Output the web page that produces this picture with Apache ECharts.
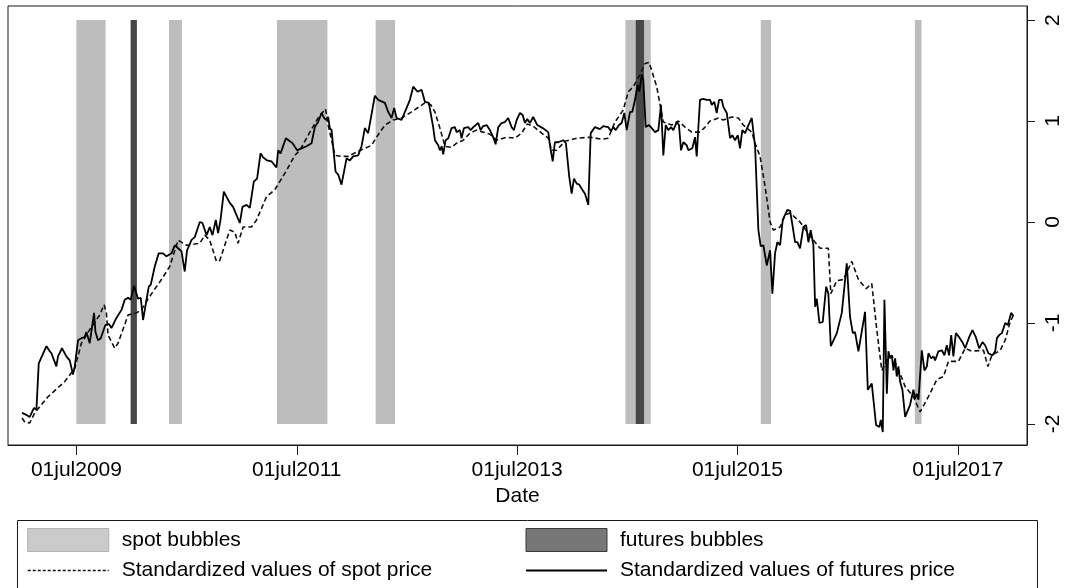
<!DOCTYPE html>
<html>
<head>
<meta charset="utf-8">
<script src="https://cdn.jsdelivr.net/npm/echarts@6/dist/echarts.min.js"></script>
<style>
  html, body { margin: 0; padding: 0; background: #fff; }
  #chart { width: 1067px; height: 588px; }
</style>
</head>
<body>
<div id="chart"></div>
<script>
// dates are decimal years (2009.5 = 01jul2009)
var xTicks = [2009.5, 2011.5, 2013.5, 2015.5, 2017.5];
var xTickLabels = ['01jul2009', '01jul2011', '01jul2013', '01jul2015', '01jul2017'];
var yTicks = [-2, -1, 0, 1, 2];

// shaded periods [start, end]
var spotBubbles = [
  [2009.499, 2009.765], [2010.340, 2010.458], [2011.320, 2011.778],
  [2012.216, 2012.392], [2014.483, 2014.713], [2015.712, 2015.805],
  [2017.110, 2017.171]
];
var futuresBubbles = [[2009.992, 2010.049], [2014.577, 2014.652]];
var bandLow = -2, bandHigh = 2;

var spotPrice = [
  [2009.006, -1.94], [2009.031, -1.98], [2009.076, -1.99], [2009.121, -1.89], [2009.242, -1.73],
  [2009.394, -1.58], [2009.485, -1.45], [2009.545, -1.20], [2009.636, -1.04], [2009.712, -0.92],
  [2009.751, -0.82], [2009.772, -0.90], [2009.787, -1.12], [2009.848, -1.25], [2009.878, -1.20],
  [2009.969, -0.92], [2010.045, -0.90], [2010.090, -0.87], [2010.150, -0.76], [2010.272, -0.57],
  [2010.347, -0.44], [2010.423, -0.18], [2010.499, -0.23], [2010.620, -0.21], [2010.665, -0.13],
  [2010.710, -0.18], [2010.771, -0.39], [2010.801, -0.38], [2010.892, -0.08], [2010.938, -0.10],
  [2010.967, -0.21], [2011.013, -0.05], [2011.089, -0.05], [2011.135, 0.02], [2011.225, 0.25],
  [2011.301, 0.32], [2011.407, 0.51], [2011.482, 0.66], [2011.528, 0.71], [2011.619, 0.89],
  [2011.694, 1.03], [2011.761, 1.12], [2011.785, 0.96], [2011.816, 0.81], [2011.846, 0.66],
  [2011.906, 0.65], [2011.966, 0.65], [2012.057, 0.70], [2012.179, 0.76], [2012.224, 0.84],
  [2012.300, 0.96], [2012.375, 1.01], [2012.451, 1.03], [2012.542, 1.09], [2012.663, 1.18],
  [2012.717, 1.16], [2012.754, 1.09], [2012.799, 0.93], [2012.845, 0.75], [2012.905, 0.74],
  [2012.951, 0.78], [2013.011, 0.81], [2013.072, 0.88], [2013.132, 0.91], [2013.192, 0.89],
  [2013.253, 0.87], [2013.314, 0.81], [2013.405, 0.84], [2013.480, 0.83], [2013.541, 0.88],
  [2013.592, 0.97], [2013.646, 0.95], [2013.723, 0.88], [2013.783, 0.83], [2013.813, 0.71],
  [2013.859, 0.71], [2013.934, 0.80], [2014.041, 0.83], [2014.161, 0.84], [2014.267, 0.82],
  [2014.327, 0.83], [2014.388, 0.99], [2014.464, 1.11], [2014.509, 1.29], [2014.555, 1.34],
  [2014.615, 1.46], [2014.661, 1.57], [2014.697, 1.58], [2014.722, 1.50], [2014.767, 1.34],
  [2014.827, 0.99], [2014.903, 0.96], [2014.963, 1.00], [2015.024, 0.94], [2015.085, 0.89],
  [2015.160, 0.89], [2015.206, 0.94], [2015.251, 1.00], [2015.326, 1.03], [2015.372, 1.01],
  [2015.448, 1.04], [2015.508, 1.03], [2015.553, 0.96], [2015.630, 0.89], [2015.660, 0.78],
  [2015.705, 0.65], [2015.751, 0.35], [2015.796, 0.00], [2015.826, -0.08], [2015.887, -0.05],
  [2015.932, 0.07], [2015.978, 0.09], [2016.068, 0.00], [2016.175, -0.16], [2016.250, -0.26],
  [2016.325, -0.26], [2016.347, -0.71], [2016.402, -0.58], [2016.461, -0.57], [2016.538, -0.39],
  [2016.598, -0.57], [2016.668, -0.66], [2016.719, -0.61], [2016.765, -1.07], [2016.810, -1.47],
  [2016.856, -1.37], [2016.901, -1.32], [2016.976, -1.50], [2017.022, -1.63], [2017.097, -1.73],
  [2017.158, -1.88], [2017.233, -1.73], [2017.310, -1.56], [2017.370, -1.53], [2017.415, -1.38],
  [2017.506, -1.38], [2017.567, -1.25], [2017.628, -1.28], [2017.733, -1.27], [2017.773, -1.43],
  [2017.809, -1.32], [2017.885, -1.27], [2017.930, -1.17], [2017.975, -0.99], [2018.005, -0.92]
];

var futuresPrice = [
  [2009.006, -1.89], [2009.046, -1.91], [2009.076, -1.93], [2009.115, -1.84], [2009.137, -1.86],
  [2009.158, -1.40], [2009.228, -1.23], [2009.258, -1.28], [2009.273, -1.30], [2009.318, -1.43],
  [2009.333, -1.33], [2009.369, -1.25], [2009.409, -1.33], [2009.439, -1.37], [2009.469, -1.51],
  [2009.485, -1.43], [2009.515, -1.17], [2009.545, -1.15], [2009.575, -1.14], [2009.591, -1.09],
  [2009.621, -1.20], [2009.660, -0.90], [2009.673, -1.09], [2009.696, -1.17], [2009.721, -1.15],
  [2009.763, -1.02], [2009.796, -1.01], [2009.818, -1.05], [2009.863, -0.95], [2009.909, -0.87],
  [2009.939, -0.77], [2009.969, -0.75], [2009.993, -0.77], [2010.023, -0.63], [2010.059, -0.76],
  [2010.084, -0.75], [2010.105, -0.97], [2010.136, -0.77], [2010.157, -0.64], [2010.175, -0.62],
  [2010.211, -0.44], [2010.247, -0.31], [2010.286, -0.31], [2010.317, -0.34], [2010.363, -0.31],
  [2010.393, -0.23], [2010.423, -0.26], [2010.454, -0.29], [2010.483, -0.49], [2010.504, -0.28],
  [2010.544, -0.18], [2010.574, -0.15], [2010.620, 0.00], [2010.644, -0.01], [2010.681, -0.13],
  [2010.710, -0.05], [2010.735, -0.13], [2010.765, 0.02], [2010.786, -0.11], [2010.808, 0.02],
  [2010.838, 0.30], [2010.892, 0.19], [2010.922, 0.15], [2010.983, -0.01], [2011.007, 0.15],
  [2011.044, 0.17], [2011.074, 0.14], [2011.110, 0.40], [2011.140, 0.43], [2011.171, 0.68],
  [2011.195, 0.64], [2011.231, 0.61], [2011.271, 0.60], [2011.316, 0.54], [2011.331, 0.71],
  [2011.353, 0.68], [2011.401, 0.83], [2011.462, 0.78], [2011.503, 0.71], [2011.543, 0.73],
  [2011.589, 0.75], [2011.634, 0.78], [2011.664, 0.94], [2011.694, 0.99], [2011.725, 1.08],
  [2011.748, 1.03], [2011.770, 1.01], [2011.785, 1.04], [2011.800, 0.93], [2011.816, 0.91],
  [2011.852, 0.50], [2011.876, 0.47], [2011.906, 0.37], [2011.952, 0.63], [2011.982, 0.61],
  [2012.012, 0.65], [2012.057, 0.66], [2012.088, 0.75], [2012.118, 0.93], [2012.148, 0.88],
  [2012.209, 1.25], [2012.239, 1.21], [2012.300, 1.18], [2012.330, 1.09], [2012.361, 1.03],
  [2012.384, 1.13], [2012.406, 1.03], [2012.451, 1.01], [2012.497, 1.13], [2012.527, 1.21],
  [2012.557, 1.34], [2012.597, 1.29], [2012.633, 1.31], [2012.663, 1.19], [2012.699, 1.18],
  [2012.738, 0.94], [2012.754, 0.81], [2012.784, 0.76], [2012.799, 0.71], [2012.815, 0.75],
  [2012.829, 0.67], [2012.851, 0.81], [2012.875, 0.83], [2012.905, 0.93], [2012.935, 0.94],
  [2012.951, 0.89], [2012.981, 0.91], [2012.996, 0.83], [2013.017, 0.93], [2013.056, 0.94],
  [2013.078, 0.91], [2013.102, 0.94], [2013.147, 0.98], [2013.169, 0.91], [2013.192, 0.95],
  [2013.223, 0.96], [2013.253, 0.91], [2013.283, 0.84], [2013.305, 0.77], [2013.329, 0.94],
  [2013.359, 0.98], [2013.389, 0.99], [2013.419, 1.03], [2013.450, 0.94], [2013.471, 0.91],
  [2013.496, 1.01], [2013.526, 1.08], [2013.550, 1.06], [2013.571, 0.98], [2013.592, 1.02],
  [2013.616, 0.98], [2013.646, 1.04], [2013.683, 0.96], [2013.732, 0.93], [2013.783, 0.89],
  [2013.798, 0.76], [2013.823, 0.60], [2013.843, 0.79], [2013.873, 0.79], [2013.919, 0.81],
  [2013.943, 0.78], [2013.973, 0.45], [2013.995, 0.28], [2014.016, 0.43], [2014.041, 0.38],
  [2014.064, 0.37], [2014.086, 0.33], [2014.116, 0.28], [2014.146, 0.17], [2014.168, 0.88],
  [2014.207, 0.94], [2014.252, 0.92], [2014.282, 0.95], [2014.327, 0.94], [2014.352, 0.90],
  [2014.373, 0.94], [2014.395, 0.91], [2014.425, 0.96], [2014.449, 0.98], [2014.473, 1.08],
  [2014.495, 0.91], [2014.525, 1.09], [2014.545, 1.09], [2014.570, 1.21], [2014.594, 1.36],
  [2014.609, 1.29], [2014.631, 1.46], [2014.645, 1.41], [2014.667, 0.94], [2014.697, 0.96],
  [2014.722, 0.93], [2014.752, 0.89], [2014.782, 0.91], [2014.806, 1.16], [2014.827, 0.66],
  [2014.849, 0.96], [2014.872, 0.91], [2014.897, 0.94], [2014.918, 0.91], [2014.949, 0.99],
  [2014.969, 0.96], [2014.988, 0.71], [2015.009, 0.79], [2015.039, 0.76], [2015.054, 0.71],
  [2015.090, 0.73], [2015.115, 0.84], [2015.130, 0.65], [2015.160, 1.21], [2015.190, 1.22],
  [2015.221, 1.21], [2015.251, 1.21], [2015.267, 1.16], [2015.290, 1.19], [2015.312, 1.08],
  [2015.333, 1.21], [2015.357, 1.21], [2015.372, 1.14], [2015.403, 1.08], [2015.433, 0.83],
  [2015.453, 0.86], [2015.478, 0.81], [2015.503, 0.86], [2015.523, 0.73], [2015.544, 0.91],
  [2015.569, 0.88], [2015.608, 0.98], [2015.630, 1.03], [2015.660, 0.75], [2015.690, -0.08],
  [2015.711, -0.24], [2015.735, -0.23], [2015.766, -0.43], [2015.780, -0.43], [2015.796, -0.28],
  [2015.817, -0.71], [2015.841, -0.31], [2015.862, -0.20], [2015.887, -0.23], [2015.911, 0.02],
  [2015.932, 0.07], [2015.953, 0.12], [2015.978, 0.11], [2016.002, -0.05], [2016.023, -0.20],
  [2016.044, -0.20], [2016.068, -0.26], [2016.098, -0.05], [2016.123, -0.03], [2016.144, -0.20],
  [2016.165, -0.08], [2016.189, -0.23], [2016.205, -0.84], [2016.220, -0.76], [2016.244, -1.00],
  [2016.274, -0.99], [2016.305, -0.64], [2016.325, -0.71], [2016.347, -1.23], [2016.402, -1.10],
  [2016.447, -0.90], [2016.492, -0.41], [2016.522, -0.94], [2016.547, -1.10], [2016.567, -1.09],
  [2016.598, -1.28], [2016.658, -0.89], [2016.683, -1.66], [2016.719, -1.60], [2016.758, -2.01],
  [2016.788, -2.03], [2016.801, -1.96], [2016.819, -2.08], [2016.834, -0.77], [2016.856, -1.70],
  [2016.870, -1.28], [2016.886, -1.35], [2016.901, -1.32], [2016.916, -1.47], [2016.931, -1.35],
  [2016.946, -1.53], [2016.961, -1.43], [2016.976, -1.58], [2016.997, -1.66], [2017.022, -1.93],
  [2017.037, -1.94], [2017.067, -1.81], [2017.097, -1.66], [2017.113, -1.75], [2017.128, -1.70],
  [2017.143, -1.76], [2017.158, -1.75], [2017.173, -1.27], [2017.197, -1.47], [2017.219, -1.43],
  [2017.233, -1.30], [2017.258, -1.35], [2017.279, -1.33], [2017.294, -1.37], [2017.324, -1.28],
  [2017.355, -1.27], [2017.379, -1.32], [2017.400, -1.22], [2017.421, -1.32], [2017.440, -1.12],
  [2017.460, -1.33], [2017.482, -1.10], [2017.512, -1.14], [2017.542, -1.19], [2017.567, -1.25],
  [2017.603, -1.14], [2017.633, -1.07], [2017.664, -1.14], [2017.694, -1.25], [2017.724, -1.19],
  [2017.748, -1.22], [2017.778, -1.30], [2017.815, -1.32], [2017.839, -1.28], [2017.855, -1.15],
  [2017.875, -1.12], [2017.900, -1.10], [2017.930, -1.00], [2017.954, -1.02], [2017.984, -0.90],
  [2018.005, -0.93]
];

var FONT = 'Liberation Sans, Arial, Helvetica, sans-serif';

function bands(list) {
  return list.map(function (b) {
    return [{ xAxis: b[0], yAxis: bandLow }, { xAxis: b[1], yAxis: bandHigh }];
  });
}

function tickLabel(v) {
  for (var i = 0; i < xTicks.length; i++) {
    if (Math.abs(xTicks[i] - v) < 1e-6) return xTickLabels[i];
  }
  return '';
}

var chart = echarts.init(document.getElementById('chart'), null, { renderer: 'canvas' });

var legendText = { fontSize: 21, color: '#000', fontFamily: FONT, padding: [0, 0, 0, 8] };

var option = {
  animation: false,
  backgroundColor: '#fff',
  textStyle: { fontFamily: FONT },
  grid: {
    left: 8, right: 40, top: 6, bottom: 143,
    show: true, borderColor: '#1a1a1a', borderWidth: 1, backgroundColor: '#fff'
  },
  xAxis: {
    type: 'value',
    min: 2008.879,
    max: 2018.128,
    name: 'Date',
    nameLocation: 'middle',
    nameGap: 38,
    nameTextStyle: { fontSize: 21, color: '#000', fontFamily: FONT },
    axisLine: { show: true, onZero: false, lineStyle: { color: '#1a1a1a', width: 1 } },
    axisTick: { show: true, length: 10, customValues: xTicks, lineStyle: { color: '#1a1a1a' } },
    axisLabel: {
      customValues: xTicks, formatter: tickLabel,
      fontSize: 21, color: '#000', margin: 15, fontFamily: FONT
    },
    splitLine: { show: false }
  },
  yAxis: {
    type: 'value',
    position: 'right',
    min: -2.208,
    max: 2.139,
    axisLine: { show: true, onZero: false, lineStyle: { color: '#1a1a1a', width: 1 } },
    axisTick: { show: true, length: 8, customValues: yTicks, lineStyle: { color: '#1a1a1a' } },
    axisLabel: {
      customValues: yTicks, rotate: 90,
      fontSize: 21, color: '#000', margin: 16, fontFamily: FONT
    },
    splitLine: { show: false }
  },
  legend: [
    {
      orient: 'vertical', left: 27, top: 528, padding: 0,
      itemWidth: 81, itemHeight: 23, itemGap: 8,
      textStyle: legendText,
      data: [
        { name: 'spot bubbles', icon: 'rect', itemStyle: { color: '#cbcbcb', borderColor: '#b2b2b2', borderWidth: 1 } },
        { name: 'Standardized values of spot price', itemStyle: { opacity: 0 }, lineStyle: { type: [3, 2], width: 1.5 } }
      ]
    },
    {
      orient: 'vertical', left: 525, top: 528, padding: 0,
      itemWidth: 81, itemHeight: 23, itemGap: 8,
      textStyle: legendText,
      data: [
        { name: 'futures bubbles', icon: 'rect', itemStyle: { color: '#777777', borderColor: '#3a3a3a', borderWidth: 1 } },
        { name: 'Standardized values of futures price', itemStyle: { opacity: 0 } }
      ]
    }
  ],
  graphic: [
    {
      type: 'rect', left: 15, top: 518, silent: true,
      shape: { width: 1020, height: 69 },
      style: { fill: 'none', stroke: '#1a1a1a', lineWidth: 1 }
    }
  ],
  series: [
    {
      name: 'spot bubbles', type: 'bar', data: [], z: 1,
      itemStyle: { color: '#cbcbcb' },
      markArea: { silent: true, itemStyle: { color: '#bdbdbd' }, data: bands(spotBubbles) }
    },
    {
      name: 'futures bubbles', type: 'bar', data: [], z: 1,
      itemStyle: { color: '#777777' },
      markArea: { silent: true, itemStyle: { color: '#474747' }, data: bands(futuresBubbles) }
    },
    {
      name: 'Standardized values of spot price', type: 'line', data: spotPrice,
      symbol: 'none', z: 3,
      lineStyle: { color: '#111', width: 1.6, type: [5, 3] },
      itemStyle: { color: '#111' }
    },
    {
      name: 'Standardized values of futures price', type: 'line', data: futuresPrice,
      symbol: 'none', z: 4,
      lineStyle: { color: '#000', width: 1.8 },
      itemStyle: { color: '#000' }
    }
  ]
};

chart.setOption(option);
</script>
</body>
</html>
